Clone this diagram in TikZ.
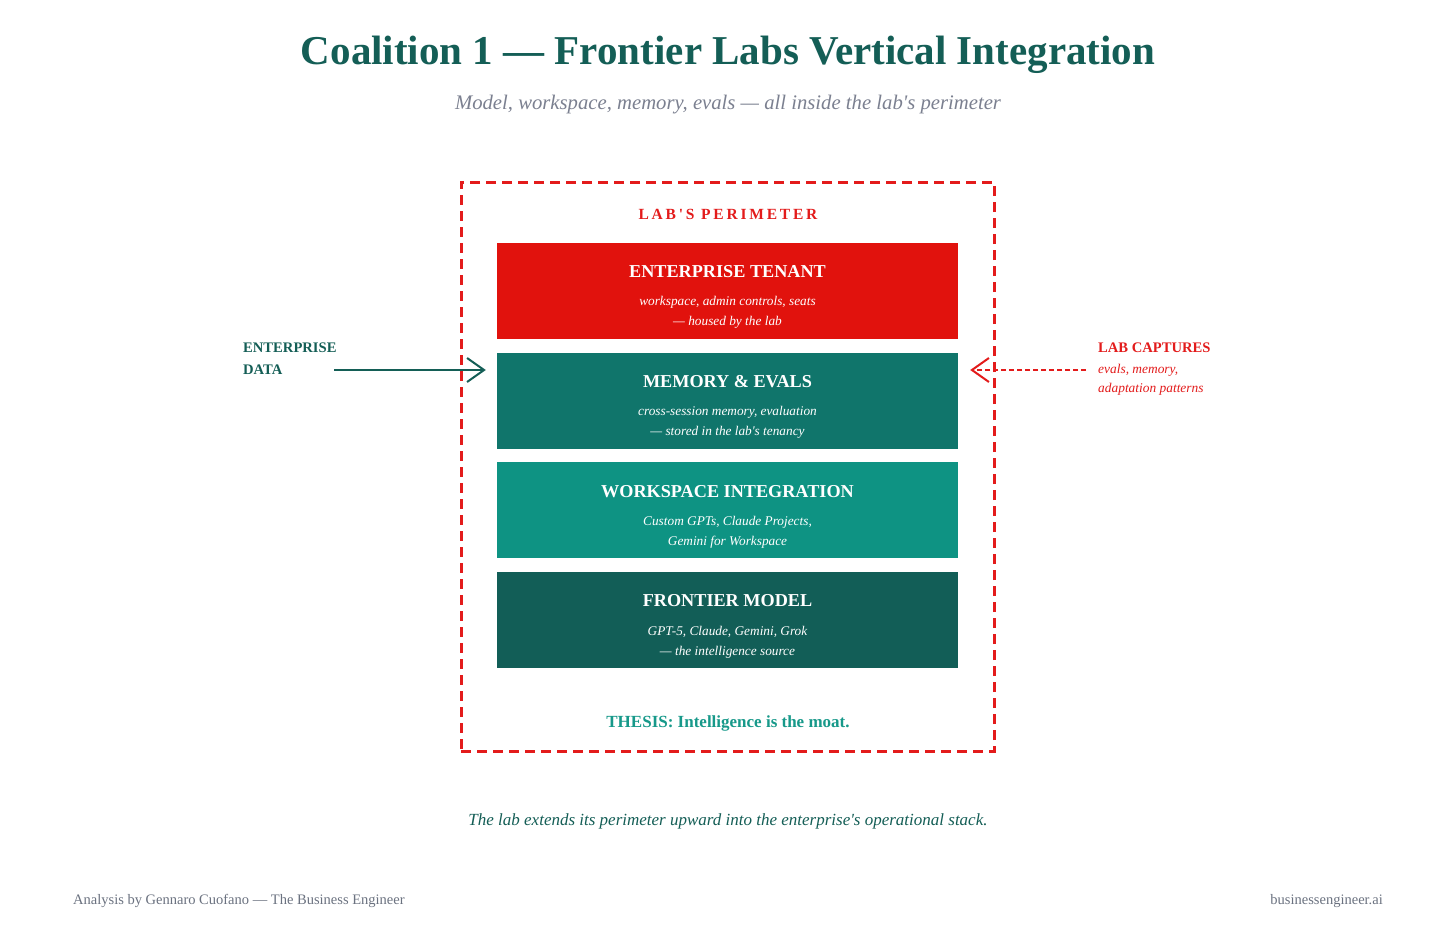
\documentclass[tikz,border=0pt]{standalone}
\usepackage{fontspec}
\setmainfont{Liberation Serif}[Ligatures=TeXOff]
\usetikzlibrary{arrows.meta,positioning}
\definecolor{labred}{HTML}{E31B1B}
\definecolor{tenantred}{HTML}{E1120D}
\definecolor{memteal}{HTML}{10756B}
\definecolor{wsteal}{HTML}{0E9383}
\definecolor{modelteal}{HTML}{125E57}
\definecolor{inkteal}{HTML}{145E56}
\definecolor{thesisteal}{HTML}{17998A}
\definecolor{mutedgray}{HTML}{7B8090}
\definecolor{footgray}{HTML}{6B7280}
\tikzset{
  layer/.style={minimum width=461pt,minimum height=96pt,inner sep=0pt},
  layertitle/.style={text=white,font=\fontsize{18.2}{20}\selectfont\bfseries},
  layernote/.style={text=white,align=center,font=\fontsize{13.3}{20}\selectfont\itshape},
  perimeter/.style={draw=labred,line width=3pt,dash pattern=on 10pt off 6pt},
  flow/.style={-{Straight Barb[length=17pt,width=24pt]},line width=2pt},
  sidehead/.style={font=\fontsize{14.6}{22}\selectfont\bfseries,align=left,inner sep=0pt},
  sidenote/.style={font=\fontsize{13.4}{19}\selectfont\itshape,align=left,inner sep=0pt}
}

\begin{document}
\begin{tikzpicture}[x=1pt,y=-1pt,node distance=13.3pt]
  \useasboundingbox[fill=white] (0,0) rectangle (1456,947);
  % heading
  \node[font=\fontsize{41}{44}\selectfont\bfseries,text=inkteal] (title) at (728,55) {Coalition 1 — Frontier Labs Vertical Integration};
  \node[font=\fontsize{20.7}{24}\selectfont\itshape,text=mutedgray] (subtitle) at (728,105) {Model, workspace, memory, evals — all inside the lab's perimeter};
  % perimeter
  \node[perimeter,minimum width=533pt,minimum height=569pt,inner sep=0pt] (labzone) at (727.5,466.5) {};
  \node[font=\fontsize{15.5}{16}\selectfont\bfseries\addfontfeature{LetterSpace=18},text=labred] (zonelabel) at (728,214) {LAB'S PERIMETER};
  % stack
  \node[layer,fill=tenantred] (tenant) at (727.5,291) {};
  \node[layer,fill=memteal,below=of tenant] (memory) {};
  \node[layer,fill=wsteal,below=of memory] (workspace) {};
  \node[layer,fill=modelteal,below=of workspace] (model) {};
  \node[layertitle] (tenanttitle) at ([yshift=-29pt]tenant.north) {ENTERPRISE TENANT};
  \node[layernote] (tenantnote) at ([yshift=-70pt]tenant.north) {workspace, admin controls, seats\\— housed by the lab};
  \node[layertitle] (memorytitle) at ([yshift=-29pt]memory.north) {MEMORY \& EVALS};
  \node[layernote] (memorynote) at ([yshift=-70pt]memory.north) {cross-session memory, evaluation\\— stored in the lab's tenancy};
  \node[layertitle] (workspacetitle) at ([yshift=-29pt]workspace.north) {WORKSPACE INTEGRATION};
  \node[layernote] (workspacenote) at ([yshift=-70pt]workspace.north) {Custom GPTs, Claude Projects,\\Gemini for Workspace};
  \node[layertitle] (modeltitle) at ([yshift=-29pt]model.north) {FRONTIER MODEL};
  \node[layernote] (modelnote) at ([yshift=-70pt]model.north) {GPT-5, Claude, Gemini, Grok\\— the intelligence source};
  \node[font=\fontsize{17}{18}\selectfont\bfseries,text=thesisteal] (thesis) at (728,723) {THESIS: Intelligence is the moat.};
  % side labels
  \node[sidehead,text=inkteal,anchor=west] (entdata) at (243,359) {ENTERPRISE\\DATA};
  \node[sidehead,text=labred,anchor=west] (captures) at (1098,348) {LAB CAPTURES};
  \node[sidenote,text=labred,anchor=west] (capturesnote) at (1098,380) {evals, memory,\\adaptation patterns};
  \coordinate (datastart) at (334,370);
  \coordinate (capturestart) at (1086,370);
  \draw[flow,draw=inkteal] (datastart) -- (memory.west |- datastart) [shorten >=11pt];
  \draw[flow,draw=labred,dash pattern=on 5pt off 3pt] (capturestart) -- (memory.east |- capturestart) [shorten >=12pt];
  % footer
  \node[font=\fontsize{17}{18}\selectfont\itshape,text=inkteal] (caption) at (728,821) {The lab extends its perimeter upward into the enterprise's operational stack.};
  \node[font=\fontsize{14.5}{16}\selectfont,text=footgray,anchor=west,inner sep=0pt] (credit) at (73,901) {Analysis by Gennaro Cuofano — The Business Engineer};
  \node[font=\fontsize{14.5}{16}\selectfont,text=footgray,anchor=east,inner sep=0pt] (site) at (1383,901) {businessengineer.ai};
\end{tikzpicture}
\end{document}
